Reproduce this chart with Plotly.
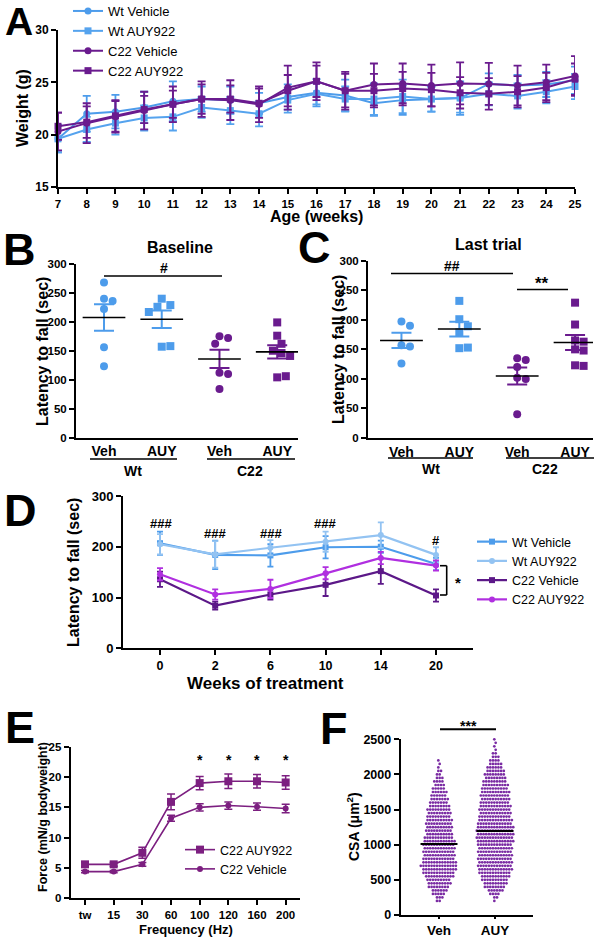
import numpy as np
import plotly.graph_objects as go

W, H = 596, 937
FONT = "Arial, Liberation Sans, Helvetica, sans-serif"

# ---------------- DATA ----------------
# Panel A: body weight (g) by age (weeks)
age_weeks = list(range(7, 26))
a_wt_veh = [19.6, 22.0, 22.2, 22.6, 23.2, 23.4, 23.3, 23.0, 23.6, 24.0, 23.75, 23.0, 23.3, 23.4, 23.5, 24.85, 24.7, 24.8, 25.2]
a_wt_veh_err = [1.3, 1.7, 1.6, 1.5, 1.9, 1.2, 1.3, 1.0, 1.2, 1.3, 1.5, 1.2, 1.4, 1.2, 1.6, 1.0, 1.0, 1.2, 1.3]
a_wt_auy = [19.6, 20.5, 21.1, 21.6, 21.7, 22.6, 22.3, 22.0, 23.3, 23.9, 23.4, 23.4, 23.65, 23.4, 23.5, 23.9, 23.7, 24.1, 24.6]
a_wt_auy_err = [1.3, 1.2, 1.1, 1.2, 1.3, 1.0, 1.3, 1.2, 1.2, 1.0, 1.2, 1.5, 1.6, 1.2, 1.4, 1.1, 1.2, 1.1, 1.2]
a_c22_veh = [20.3, 21.1, 21.7, 22.3, 22.9, 23.4, 23.3, 22.9, 24.5, 25.1, 24.2, 24.8, 24.9, 24.7, 24.9, 24.85, 24.7, 25.0, 25.6]
a_c22_veh_err = [1.8, 1.9, 1.5, 1.8, 1.7, 1.7, 1.9, 1.7, 2.1, 1.8, 1.6, 2.0, 1.9, 2.0, 2.0, 2.0, 1.9, 1.7, 1.9]
a_c22_auy = [20.8, 21.2, 21.8, 22.4, 22.9, 23.4, 23.4, 23.0, 24.2, 25.1, 24.2, 24.2, 24.4, 24.3, 24.0, 23.9, 24.1, 24.5, 25.3]
a_c22_auy_err = [1.3, 1.5, 1.5, 1.3, 1.3, 1.4, 1.3, 1.4, 1.5, 1.5, 1.8, 1.6, 1.6, 1.6, 1.5, 1.5, 1.5, 1.4, 1.5]

# Panels B & C: latency to fall (sec), individual animals
group_ticks = ["Veh", "AUY", "Veh", "AUY"]
b_wt_veh = [268, 240, 236, 222, 156, 123]
b_wt_auy = [240, 229, 226, 217, 157, 158]
b_c22_veh = [175, 172, 162, 112, 110, 84]
b_c22_auy = [199, 176, 162, 150, 146, 141, 104, 106]
c_wt_veh = [197, 190, 157, 155, 126]
c_wt_auy = [232, 201, 189, 179, 152, 153]
c_c22_veh = [135, 132, 120, 102, 100, 40]
c_c22_auy = [229, 192, 165, 163, 150, 148, 123, 122]

# Panel D: latency over weeks of treatment
d_weeks = ["0", "2", "6", "10", "14", "20"]
d_wt_veh = [207, 184, 183, 199, 200, 166]
d_wt_veh_err = [23, 28, 22, 22, 12, 12]
d_wt_auy = [205, 185, 198, 210, 223, 184]
d_wt_auy_err = [20, 26, 15, 20, 25, 15]
d_c22_veh = [136, 84, 106, 125, 152, 104]
d_c22_veh_err = [15, 8, 10, 22, 25, 12]
d_c22_auy = [146, 106, 117, 148, 178, 163]
d_c22_auy_err = [12, 10, 18, 12, 12, 10]

# Panel E: force-frequency
e_freq = ["tw", "15", "30", "60", "100", "120", "160", "200"]
e_auy = [5.6, 5.6, 7.5, 15.9, 19.0, 19.3, 19.3, 19.1]
e_auy_err = [0.4, 0.3, 0.9, 1.3, 1.1, 1.2, 1.1, 1.1]
e_veh = [4.4, 4.4, 5.6, 13.2, 15.0, 15.3, 15.1, 14.8]
e_veh_err = [0.2, 0.2, 0.3, 0.5, 0.6, 0.6, 0.6, 0.7]

f_groups = ["Veh", "AUY"]
f_veh_bins = list(range(200, 2201, 50))
f_veh_counts = [2, 3, 5, 6, 8, 9, 9, 11, 12, 13, 14, 13, 12, 12, 12, 12, 12, 12, 11, 10, 10,
                10, 10, 10, 9, 9, 9, 8, 7, 7, 6, 6, 5, 4, 4, 3, 2, 2, 1, 1, 1]
f_auy_bins = list(range(200, 2501, 50))
f_auy_counts = [1, 2, 4, 6, 8, 9, 10, 11, 12, 13, 13, 13, 13, 13, 13, 13, 13, 14, 14, 14, 14,
                14, 13, 13, 12, 12, 12, 12, 11, 11, 11, 11, 10, 10, 9, 8, 8, 7, 6, 5, 4, 3, 2, 1,
                1, 1, 1]
f_means = [1010, 1195]

# ---------------- HELPERS ----------------
def dom_x(a, b):
    return [a / W, b / W]

def dom_y(top, bottom):
    return [1 - bottom / H, 1 - top / H]

def bold(size):
    return dict(family=FONT, size=size, color="black", weight="bold")

def axis(**kw):
    d = dict(showline=True, linewidth=2, linecolor="black", ticks="outside", ticklen=5,
             tickwidth=2, tickcolor="black", showgrid=False, zeroline=False, fixedrange=True,
             automargin=False, tickfont=bold(12))
    d.update(kw)
    return d

def swarm(values, px_per_unit, px_per_cat, diam=8.6):
    placed, offs = [], []
    cands = [0.0]
    for k in range(1, 8):
        cands += [k * diam * 0.5, -k * diam * 0.5]
    for v in values:
        yp = v * px_per_unit
        chosen = cands[-1]
        for c in cands:
            if all((c - o) ** 2 + (yp - yy) ** 2 >= diam ** 2 for o, yy in placed):
                chosen = c
                break
        placed.append((chosen, yp))
        offs.append(chosen / px_per_cat)
    return offs

BLUE = "#4d9ceb"
BLUE_L = "#93c3f2"
PURPLE = "#6a1b8e"
PURPLE_D = "#5c1888"
MAGENTA = "#b02fe0"
E_PURPLE = "#7c1f80"
F_PURPLE = "#7a2ba3"

fig = go.Figure()

# ---------------- PANEL A ----------------
a_series = [
    ("Wt Vehicle", a_wt_veh, a_wt_veh_err, BLUE, "circle"),
    ("Wt AUY922", a_wt_auy, a_wt_auy_err, "#55a3ee", "square"),
    ("C22 Vehicle", a_c22_veh, a_c22_veh_err, PURPLE, "circle"),
    ("C22 AUY922", a_c22_auy, a_c22_auy_err, PURPLE, "square"),
]
for name, vals, err, col, sym in a_series:
    fig.add_trace(go.Scatter(
        x=age_weeks, y=vals, name=name, mode="lines+markers",
        error_y=dict(type="data", array=err, color=col, thickness=1.8, width=4),
        line=dict(color=col, width=2), marker=dict(symbol=sym, size=7, color=col),
        xaxis="x", yaxis="y", legend="legend", cliponaxis=False))

# ---------------- PANELS B & C ----------------
def scatter_panel(groups, xa, ya, px_unit, px_cat):
    for i, (vals, col, sym) in enumerate(groups):
        offs = swarm(vals, px_unit, px_cat)
        fig.add_trace(go.Scatter(
            x=[i + o for o in offs], y=vals, mode="markers", showlegend=False,
            marker=dict(symbol=sym, size=8, color=col), xaxis=xa, yaxis=ya, cliponaxis=False))
        m = float(np.mean(vals))
        sem = float(np.std(vals, ddof=1) / np.sqrt(len(vals)))
        fig.add_trace(go.Scatter(
            x=[i], y=[m], mode="markers", showlegend=False,
            marker=dict(size=1, color=col),
            error_y=dict(type="data", array=[sem], color=col, thickness=2, width=10),
            xaxis=xa, yaxis=ya, cliponaxis=False))
        fig.add_trace(go.Scatter(
            x=[i - 0.37, i + 0.37], y=[m, m], mode="lines", showlegend=False,
            line=dict(color="black", width=1.6), xaxis=xa, yaxis=ya, cliponaxis=False))

scatter_panel([(b_wt_veh, BLUE, "circle"), (b_wt_auy, BLUE, "square"),
               (b_c22_veh, PURPLE, "circle"), (b_c22_auy, PURPLE, "square")],
              "x2", "y2", 0.58, 57.7)
scatter_panel([(c_wt_veh, BLUE, "circle"), (c_wt_auy, BLUE, "square"),
               (c_c22_veh, PURPLE, "circle"), (c_c22_auy, PURPLE, "square")],
              "x3", "y3", 0.59, 58.3)

# ---------------- PANEL D ----------------
d_series = [
    ("Wt Vehicle", d_wt_veh, d_wt_veh_err, BLUE, "square"),
    ("Wt AUY922", d_wt_auy, d_wt_auy_err, BLUE_L, "circle"),
    ("C22 Vehicle", d_c22_veh, d_c22_veh_err, PURPLE_D, "square"),
    ("C22 AUY922", d_c22_auy, d_c22_auy_err, MAGENTA, "circle"),
]
for name, vals, err, col, sym in d_series:
    fig.add_trace(go.Scatter(
        x=d_weeks, y=vals, name=name, mode="lines+markers",
        error_y=dict(type="data", array=err, color=col, thickness=1.8, width=3),
        line=dict(color=col, width=2.2), marker=dict(symbol=sym, size=6, color=col),
        xaxis="x4", yaxis="y4", legend="legend2", cliponaxis=False))

# ---------------- PANEL E ----------------
for name, vals, err, sym, msize in [("C22 AUY922", e_auy, e_auy_err, "square", 8),
                                     ("C22 Vehicle", e_veh, e_veh_err, "circle", 6)]:
    fig.add_trace(go.Scatter(
        x=e_freq, y=vals, name=name, mode="lines+markers",
        error_y=dict(type="data", array=err, color=E_PURPLE, thickness=1.5, width=4),
        line=dict(color=E_PURPLE, width=1.6), marker=dict(symbol=sym, size=msize, color=E_PURPLE),
        xaxis="x5", yaxis="y5", legend="legend3", cliponaxis=False))

# ---------------- PANEL F ----------------
F_PX_CAT = 56.0
F_STEP = 2.7
for gi, (bins, counts) in enumerate([(f_veh_bins, f_veh_counts), (f_auy_bins, f_auy_counts)]):
    xs, ys = [], []
    for r, (b, n) in enumerate(zip(bins, counts)):
        shift = (F_STEP / 4.0) * (1 if r % 2 else -1)
        for k in range(n):
            xs.append(gi + ((k - (n - 1) / 2.0) * F_STEP + shift) / F_PX_CAT)
            ys.append(b)
    fig.add_trace(go.Scatter(
        x=xs, y=ys, mode="markers", showlegend=False,
        marker=dict(size=2.7, color=F_PURPLE), xaxis="x6", yaxis="y6", cliponaxis=False))
for gi, m in enumerate(f_means):
    fig.add_trace(go.Scatter(
        x=[gi - 0.33, gi + 0.33], y=[m, m], mode="lines", showlegend=False,
        line=dict(color="black", width=2.2), xaxis="x6", yaxis="y6", cliponaxis=False))

# ---------------- AXES ----------------
fig.update_layout(
    xaxis=axis(domain=dom_x(58, 575), range=[7, 25], tickvals=age_weeks, anchor="y",
               tickfont=bold(11.5)),
    yaxis=axis(domain=dom_y(30, 187), range=[15, 30], tickvals=[15, 20, 25, 30], anchor="x",
               tickfont=bold(12)),
    xaxis2=axis(domain=dom_x(76, 298), range=[-0.485, 3.36], tickvals=[0, 1, 2, 3],
                ticktext=group_ticks, anchor="y2", ticks="", ticklen=0, tickfont=bold(14)),
    yaxis2=axis(domain=dom_y(264, 437.5), range=[0, 300], dtick=50, anchor="x2",
                tickfont=bold(11.5)),
    xaxis3=axis(domain=dom_x(368, 593), range=[-0.578, 3.31], tickvals=[0, 1, 2, 3],
                ticktext=group_ticks, anchor="y3", ticks="", ticklen=0, tickfont=bold(14)),
    yaxis3=axis(domain=dom_y(260.7, 438), range=[0, 300], dtick=50, anchor="x3",
                tickfont=bold(11.5)),
    xaxis4=axis(domain=dom_x(123, 473), type="category", range=[-0.67, 5.67], anchor="y4",
                tickfont=bold(12.5)),
    yaxis4=axis(domain=dom_y(496, 648.3), range=[0, 300], dtick=100, anchor="x4",
                tickfont=bold(13)),
    xaxis5=axis(domain=dom_x(70.7, 300), type="category", range=[-0.5, 7.5], anchor="y5",
                tickfont=bold(11.5)),
    yaxis5=axis(domain=dom_y(746.7, 898.3), range=[0, 25], dtick=5, anchor="x5",
                tickfont=bold(11.5)),
    xaxis6=axis(domain=dom_x(400.7, 532.7), range=[-0.684, 1.673], tickvals=[0, 1],
                ticktext=f_groups, anchor="y6", ticklen=2, tickfont=bold(13.5)),
    yaxis6=axis(domain=dom_y(739.3, 915), range=[0, 2500], dtick=500, anchor="x6",
                tickfont=bold(12.5)),
)

# ---------------- LEGENDS ----------------
fig.update_layout(
    legend=dict(x=68 / W, y=1 + 4 / H, xanchor="left", yanchor="top", bgcolor="rgba(0,0,0,0)",
                font=dict(family=FONT, size=13, color="black"), tracegroupgap=0),
    legend2=dict(x=472 / W, y=1 - 527 / H, xanchor="left", yanchor="top", bgcolor="rgba(0,0,0,0)",
                 font=dict(family=FONT, size=12.5, color="black"), tracegroupgap=0),
    legend3=dict(x=180 / W, y=1 - 835 / H, xanchor="left", yanchor="top", bgcolor="rgba(0,0,0,0)",
                 font=dict(family=FONT, size=12.5, color="black"), tracegroupgap=0),
)

# ---------------- TEXT ----------------
anns = []
def txt(t, x, y, size, bold=True, angle=0, xanchor="center"):
    anns.append(dict(text=t, x=x / W, y=1 - y / H, xref="paper", yref="paper",
                     xanchor=xanchor, yanchor="middle", showarrow=False, textangle=angle,
                     font=dict(family=FONT, size=size, color="black",
                               weight="bold" if bold else "normal")))

# panel letters
txt("A", 19, 21, 39)
txt("B", 19, 250, 45)
txt("C", 314, 247, 45)
txt("D", 20, 511, 45)
txt("E", 20, 727, 45)
txt("F", 334, 728, 45)

# axis titles
txt("Weight (g)", 22, 108, 16, angle=-90)
txt("Age (weeks)", 316, 217, 16)
txt("Latency to fall (sec)", 42, 352, 16, angle=-90)
txt("Latency to fall (sec)", 338, 350, 16, angle=-90)
txt("Latency to fall (sec)", 73, 573, 16, angle=-90)
txt("Weeks of treatment", 265, 683, 17)
txt("Force (mN/g bodyweight)", 43, 817, 12.5, angle=-90)
txt("Frequency (Hz)", 186, 929, 13)
txt("CSA (μm<sup>2</sup>)", 353, 826, 14, angle=-90)

# panel titles
txt("Baseline", 180, 247, 16)
txt("Last trial", 488, 244, 16)

# group labels
txt("Wt", 133, 471, 14)
txt("C22", 250, 471, 14)
txt("Wt", 431, 469, 14)
txt("C22", 545, 469, 14)

# significance marks
txt("#", 164, 268, 14)
txt("##", 452, 266, 14)
txt("**", 542, 283, 17)
txt("###", 161, 523, 13)
txt("###", 215, 533, 13)
txt("###", 271, 533, 13)
txt("###", 325, 523, 13)
txt("#", 436, 540, 13)
txt("*", 458, 582, 15)
for xp in [200, 228.7, 257.3, 285.7]:
    txt("*", xp, 760, 14)
txt("***", 468, 726, 14)

fig.update_layout(annotations=anns)

# ---------------- SHAPES ----------------
shapes = []
def hline(x0, x1, y, w=1.6):
    shapes.append(dict(type="line", xref="paper", yref="paper", x0=x0 / W, x1=x1 / W,
                       y0=1 - y / H, y1=1 - y / H, line=dict(color="black", width=w)))
def vline(x, y0, y1, w=1.6):
    shapes.append(dict(type="line", xref="paper", yref="paper", x0=x / W, x1=x / W,
                       y0=1 - y0 / H, y1=1 - y1 / H, line=dict(color="black", width=w)))

hline(90, 177, 459); hline(207, 295, 459)
hline(388, 473, 458); hline(506, 594, 458)
hline(104, 222, 276)
hline(391, 513, 273.5)
hline(517, 568, 289.5)
vline(446.7, 565.7, 595); hline(440, 446.7, 565.7); hline(440, 446.7, 595)
hline(440, 496, 729.3, w=2)
fig.update_layout(shapes=shapes)

fig.update_layout(width=W, height=H, margin=dict(l=0, r=0, t=0, b=0, autoexpand=False),
                  paper_bgcolor="white", plot_bgcolor="white", showlegend=True)

fig.write_html("out.html", config={"displayModeBar": False},
               post_script="document.body.style.margin='0px';document.body.style.padding='0px';")
